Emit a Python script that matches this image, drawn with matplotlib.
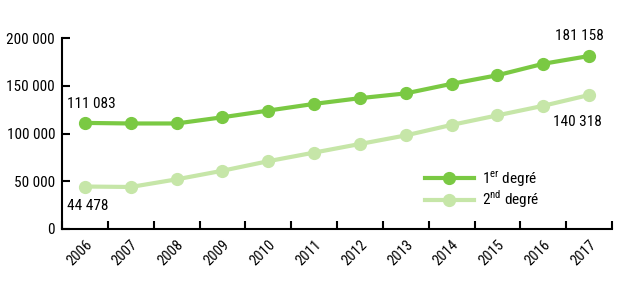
import matplotlib
matplotlib.use("Agg")
import matplotlib.pyplot as plt
import numpy as np

plt.rcParams['font.family'] = ['Roboto Condensed', 'Liberation Sans Narrow', 'Roboto', 'DejaVu Sans']
plt.rcParams['font.weight'] = 'normal'
plt.rcParams['mathtext.fontset'] = 'custom'
plt.rcParams['mathtext.rm'] = 'Roboto Condensed'

years = ['2006', '2007', '2008', '2009', '2010', '2011',
         '2012', '2013', '2014', '2015', '2016', '2017']
premier = [111083, 110500, 110500, 117000, 124000, 131000,
           137000, 142000, 152000, 161000, 173000, 181158]
second = [44478, 44000, 52000, 61000, 71000, 80000,
          89000, 98000, 109000, 119000, 129000, 140318]

dark = '#7ac943'
light = '#c6e6a8'

fig = plt.figure(figsize=(6.28, 2.92), dpi=100)
ax = fig.add_axes([62 / 628, 63 / 292, 550 / 628, 191 / 292])

x = np.arange(len(years))
ax.plot(x, premier, color=dark, lw=3, marker='o', ms=8.5, label='1$^{\\rm er}$ degré')
ax.plot(x, second, color=light, lw=3, marker='o', ms=8.5, label='2$^{\\rm nd}$ degré')

ax.set_xlim(-0.5, len(years) - 0.5)
ax.set_ylim(0, 200000)
ax.set_yticks([0, 50000, 100000, 150000, 200000])
ax.set_yticklabels(['0', '50 000', '100 000', '150 000', '200 000'], fontsize=11)
ax.set_xticks(np.arange(-0.5, len(years), 1))
ax.set_xticklabels([])
ax.set_xticks(x, minor=True)
ax.set_xticklabels(years, minor=True, rotation=45, ha='right',
                   rotation_mode='anchor', fontsize=10.5)
ax.tick_params(axis='x', which='minor', length=0, pad=6)
ax.tick_params(axis='both', which='major', direction='in', length=6, width=1.5)
ax.tick_params(axis='y', pad=5)

for s in ['top', 'right']:
    ax.spines[s].set_visible(False)
for s in ['left', 'bottom']:
    ax.spines[s].set_linewidth(1.5)

ax.text(x[0] - 0.4, premier[0] + 13000, '111 083', fontsize=11, ha='left', va='bottom')
ax.text(x[0] - 0.4, second[0] - 13000, '44 478', fontsize=11, ha='left', va='top')
ax.text(x[-1] - 0.2, premier[-1] + 14000, '181 158', fontsize=11, ha='center',
        va='bottom', clip_on=False)
ax.text(x[-1] - 0.25, second[-1] - 21000, '140 318', fontsize=11, ha='center', va='top')

ax.legend(loc='center left', bbox_to_anchor=(0.635, 0.205), frameon=False,
          fontsize=11, handlelength=3.2, labelspacing=0.0, handletextpad=0.5)

fig.savefig('out.png', dpi=100)
